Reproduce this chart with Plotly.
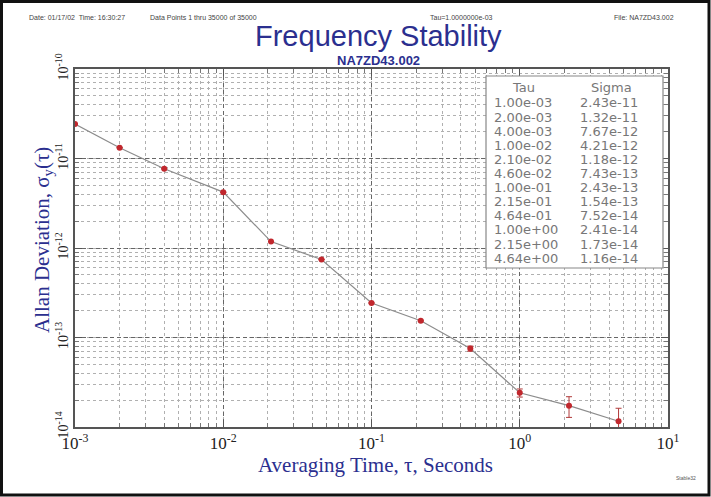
import plotly.graph_objects as go

tau = [1.00e-03, 2.00e-03, 4.00e-03, 1.00e-02, 2.10e-02, 4.60e-02,
       1.00e-01, 2.15e-01, 4.64e-01, 1.00e+00, 2.15e+00, 4.64e+00]
sigma = [2.43e-11, 1.32e-11, 7.67e-12, 4.21e-12, 1.18e-12, 7.43e-13,
         2.43e-13, 1.54e-13, 7.52e-14, 2.41e-14, 1.73e-14, 1.16e-14]
sigma_err = [0, 0, 0, 0, 0, 0, 0, 0.2e-14, 0.5e-14, 0.25e-14, 0.45e-14, 0.46e-14]

x_ticks = [1e-3, 1e-2, 1e-1, 1e0, 1e1]
x_ticktext = ["10<sup>-3</sup>", "10<sup>-2</sup>", "10<sup>-1</sup>", "10<sup>0</sup>", "10<sup>1</sup>"]
y_ticks = [1e-14, 1e-13, 1e-12, 1e-11, 1e-10]
y_ticktext = ["10<sup>-14</sup>", "10<sup>-13</sup>", "10<sup>-12</sup>", "10<sup>-11</sup>", "10<sup>-10</sup>"]

header_texts = ["Date: 01/17/02  Time: 16:30:27", "Data Points 1 thru 35000 of 35000",
                "Tau=1.0000000e-03", "File: NA7ZD43.002"]

NAVY = "#2b2f8f"
SERIF = "Liberation Serif"

fig = go.Figure()
fig.add_trace(go.Scatter(
    x=tau, y=sigma, mode="lines+markers",
    line=dict(color="#8c8c8c", width=1.2),
    marker=dict(color="#c1272d", size=6),
    error_y=dict(type="data", array=sigma_err, visible=True, color="#b03a3a", thickness=1, width=3),
    showlegend=False, cliponaxis=True,
))

grid_major = dict(showgrid=True, gridcolor="#666666", griddash="4px,3px", gridwidth=1)
minor = dict(ticks="inside", ticklen=4, tickcolor="#777777", showgrid=True,
             gridcolor="#b0b0b0", griddash="dot", gridwidth=1, dtick="D1")

fig.update_xaxes(type="log", range=[-3, 1], tickvals=x_ticks, ticktext=x_ticktext,
                 ticks="inside", ticklen=7, tickcolor="#555555", mirror="allticks",
                 showline=True, linecolor="#555555", linewidth=1.5,
                 ticklabelstandoff=0,
                 tickfont=dict(family=SERIF, size=17, color="#222222"),
                 minor=minor, zeroline=False, **grid_major)
fig.update_yaxes(type="log", range=[-14, -10], tickvals=y_ticks, ticktext=y_ticktext,
                 tickangle=-90,
                 ticks="inside", ticklen=7, tickcolor="#555555", mirror="allticks",
                 showline=True, linecolor="#555555", linewidth=1.5,
                 ticklabelstandoff=0,
                 tickfont=dict(family=SERIF, size=14, color="#222222"),
                 minor=minor, zeroline=False, **grid_major)

W, H = 711, 497
L, R, T, B = 75, 43, 69, 70
PW, PH = W - L - R, H - T - B


def px(x):
    return (x - L) / PW


def py(y):
    return (H - B - y) / PH


ann = []
header_x = [27, 148, 428, 612]
for t, hx in zip(header_texts, header_x):
    ann.append(dict(text=t, x=px(hx), y=py(17), xref="paper", yref="paper",
                    xanchor="left", yanchor="middle", showarrow=False,
                    font=dict(family="Liberation Sans", size=7, color="#444444")))
ann.append(dict(text="Frequency Stability", x=px(378), y=py(36), xref="paper", yref="paper",
                xanchor="center", yanchor="middle", showarrow=False,
                font=dict(family="Liberation Sans", size=29, color=NAVY)))
ann.append(dict(text="<b>NA7ZD43.002</b>", x=px(378), y=py(60), xref="paper", yref="paper",
                xanchor="center", yanchor="middle", showarrow=False,
                font=dict(family="Liberation Sans", size=13, color=NAVY)))
ann.append(dict(text="Stable32", x=px(686), y=py(478), xref="paper", yref="paper",
                xanchor="center", yanchor="middle", showarrow=False,
                font=dict(family="Liberation Sans", size=5, color="#555555")))
ann.append(dict(text="Averaging Time, τ, Seconds", x=px(375), y=py(465),
                xref="paper", yref="paper", xanchor="center", yanchor="middle", showarrow=False,
                font=dict(family=SERIF, size=21, color=NAVY)))
ann.append(dict(text="Allan Deviation, σ<sub>y</sub>(τ)", x=px(43), y=py(240), textangle=-90,
                xref="paper", yref="paper", xanchor="center", yanchor="middle", showarrow=False,
                font=dict(family=SERIF, size=21, color=NAVY)))

TF = dict(family="DejaVu Sans", size=13, color="#777777")
ann.append(dict(text="Tau", x=px(523), y=py(87), xref="paper", yref="paper",
                xanchor="center", yanchor="middle", showarrow=False, font=TF))
ann.append(dict(text="Sigma", x=px(611), y=py(87), xref="paper", yref="paper",
                xanchor="center", yanchor="middle", showarrow=False, font=TF))
for i, (t, s) in enumerate(zip(tau, sigma)):
    yy = py(103 + 14.1 * i)
    ann.append(dict(text=f"{t:.2e}", x=px(492), y=yy, xref="paper", yref="paper",
                    xanchor="left", yanchor="middle", showarrow=False, font=TF))
    ann.append(dict(text=f"{s:.2e}", x=px(578), y=yy, xref="paper", yref="paper",
                    xanchor="left", yanchor="middle", showarrow=False, font=TF))

shapes = [
    dict(type="rect", xref="paper", yref="paper", x0=px(486), x1=px(663), y0=py(268), y1=py(76),
         line=dict(color="#888888", width=1.2), fillcolor="white", layer="above"),
    dict(type="rect", xref="paper", yref="paper", x0=px(1.5), x1=px(709), y0=py(495), y1=py(1.5),
         line=dict(color="#111111", width=3), layer="above"),
]

fig.update_layout(width=W, height=H, margin=dict(l=L, r=R, t=T, b=B),
                  paper_bgcolor="white", plot_bgcolor="white",
                  annotations=ann, shapes=shapes)
fig.write_html("out.html")
